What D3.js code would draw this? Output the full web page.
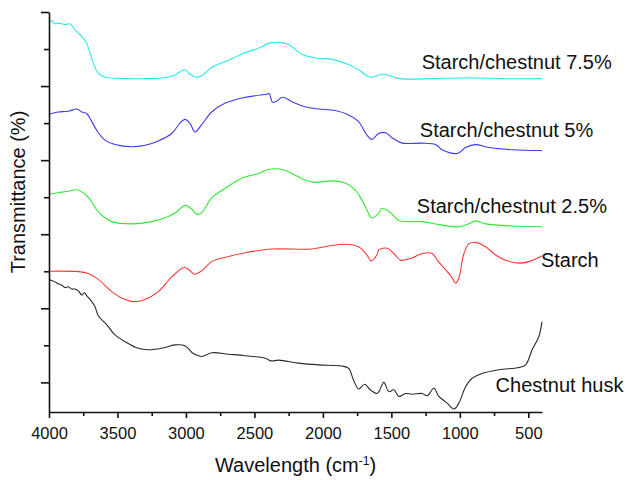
<!DOCTYPE html>
<html>
<head>
<meta charset="utf-8">
<script src="https://cdn.jsdelivr.net/npm/d3@7"></script>
<style>
  body { margin: 0; background: #fff; }
  svg text { font-family: "Liberation Sans", Arial, sans-serif; fill: #111; }
</style>
</head>
<body>
<div id="chart"></div>
<script>
// FTIR spectra, [wavenumber cm-1, transmittance (arbitrary offset units)]
const chestnut75 = [
  [4000, 48.7], [3980, 48.8], [3955, 48.4], [3932, 48.5], [3883, 48.3], [3847, 48.4],
  [3810, 47.6], [3761, 46.7], [3725, 45.8], [3700, 44.4], [3676, 43.1], [3640, 41.7],
  [3591, 41.2], [3542, 41.1], [3420, 41.0], [3299, 41.0], [3177, 41.1], [3092, 41.4],
  [3007, 42.2], [2971, 41.6], [2922, 41.2], [2885, 41.4], [2812, 42.5], [2688, 43.5],
  [2567, 44.5], [2445, 45.3], [2396, 45.8], [2323, 45.9], [2250, 45.6], [2153, 44.3],
  [2056, 43.8], [1934, 43.6], [1812, 42.9], [1739, 42.2], [1656, 41.2], [1618, 41.3],
  [1573, 41.6], [1511, 41.4], [1438, 41.0], [1197, 41.0], [1000, 41.1], [854, 41.1],
  [700, 41.0], [400, 41.0]
];

const chestnut5 = [
  [4000, 36.2], [3932, 36.5], [3859, 36.6], [3798, 36.9], [3761, 36.5], [3725, 36.3],
  [3688, 35.2], [3640, 33.7], [3591, 32.7], [3518, 32.1], [3396, 31.8], [3299, 32.0],
  [3202, 32.6], [3104, 33.6], [3044, 35.0], [3007, 35.5], [2971, 35.0], [2934, 33.8],
  [2885, 34.8], [2812, 36.5], [2713, 37.7], [2591, 38.4], [2494, 38.7], [2409, 38.9],
  [2392, 39.0], [2367, 37.8], [2336, 38.0], [2294, 38.5], [2226, 37.9], [2129, 37.2],
  [2031, 36.9], [1910, 36.7], [1812, 36.1], [1739, 35.2], [1679, 33.4], [1642, 32.8],
  [1593, 33.6], [1542, 33.7], [1494, 33.0], [1421, 32.3], [1275, 32.3], [1177, 32.1],
  [1129, 31.4], [1019, 30.9], [958, 31.7], [885, 32.1], [788, 31.7], [616, 31.4],
  [400, 31.3]
];

const chestnut25 = [
  [4000, 25.4], [3932, 25.6], [3859, 25.8], [3798, 26.0], [3737, 25.4], [3688, 24.4],
  [3652, 23.3], [3603, 22.4], [3542, 21.7], [3396, 21.4], [3250, 21.7], [3129, 22.4],
  [3068, 23.0], [3007, 23.9], [2958, 23.4], [2922, 22.7], [2885, 22.9], [2812, 24.9],
  [2713, 26.2], [2591, 27.6], [2469, 28.2], [2409, 28.7], [2312, 28.8], [2226, 28.2],
  [2129, 27.3], [2056, 27.0], [1934, 27.2], [1837, 26.9], [1764, 26.0], [1715, 24.6],
  [1679, 23.3], [1644, 22.2], [1593, 22.8], [1571, 23.5], [1511, 23.0], [1449, 21.9],
  [1365, 21.7], [1275, 21.7], [1153, 21.3], [1007, 21.0], [934, 21.4], [885, 21.8],
  [812, 21.4], [616, 21.1], [400, 21.0]
];

const starch = [
  [4000, 15.0], [3785, 14.95], [3713, 14.7], [3640, 13.9], [3542, 12.25], [3469, 11.4],
  [3384, 10.9], [3299, 11.2], [3202, 12.25], [3104, 14.25], [3012, 15.5], [2978, 15.2],
  [2939, 14.6], [2885, 15.05], [2812, 16.3], [2688, 17.0], [2567, 17.5], [2372, 18.0],
  [2080, 18.0], [1958, 18.4], [1837, 18.65], [1739, 18.3], [1679, 17.2], [1647, 16.4],
  [1606, 17.2], [1591, 17.9], [1530, 18.1], [1482, 17.4], [1433, 16.5], [1348, 16.8],
  [1275, 17.4], [1202, 17.4], [1165, 16.5], [1104, 15.2], [1056, 14.1], [1031, 13.4],
  [1007, 14.1], [970, 17.4], [934, 18.7], [885, 18.9], [812, 18.3], [739, 17.2],
  [666, 16.5], [569, 16.1], [496, 16.3], [400, 17.1]
];

const chestnutHusk = [
  [4000, 13.9], [3960, 13.6], [3932, 13.3], [3905, 13.1], [3883, 12.8], [3860, 12.9],
  [3834, 12.6], [3810, 12.6], [3785, 12.35], [3761, 11.8], [3740, 12.1], [3725, 11.7],
  [3700, 11.2], [3664, 10.2], [3640, 9.0], [3579, 7.8], [3518, 6.4], [3445, 5.5],
  [3348, 4.6], [3275, 4.4], [3177, 4.6], [3080, 5.06], [3007, 4.96], [2946, 3.9],
  [2885, 3.5], [2812, 4.0], [2688, 3.8], [2567, 3.6], [2421, 3.26], [2377, 2.9],
  [2323, 3.0], [2177, 2.6], [2031, 2.36], [1861, 2.2], [1812, 1.9], [1776, 0.3],
  [1739, -0.9], [1695, -0.25], [1654, -1.0], [1606, -1.5], [1591, -1.25], [1555, 0.0],
  [1518, -1.25], [1482, -1.0], [1445, -1.9], [1396, -1.5], [1348, -1.6], [1275, -1.5],
  [1238, -1.8], [1190, -0.8], [1153, -1.9], [1092, -2.8], [1043, -3.6], [1007, -2.8],
  [958, -0.6], [910, 0.56], [837, 1.2], [715, 1.7], [569, 2.0], [520, 2.36],
  [472, 4.4], [423, 6.2], [400, 8.2]
];

const seriesNames = ["Starch/chestnut 7.5%", "Starch/chestnut 5%", "Starch/chestnut 2.5%", "Starch", "Chestnut husk"];
const seriesData = [chestnut75, chestnut5, chestnut25, starch, chestnutHusk];
const seriesColors = ["#2ae8ea", "#3c3ce8", "#33e633", "#ff3535", "#2a2a2a"];
// label anchors, in data units [wavenumber, transmittance]
const labelAnchors = [[1279, 42.3], [1292, 33.1], [1314, 22.8], [408, 15.6], [739, -1.25]];

const xMajorTicks = [4000, 3500, 3000, 2500, 2000, 1500, 1000, 500];
const xMinorTicks = [3750, 3250, 2750, 2250, 1750, 1250, 750];
const yTicks = [0, 5, 10, 15, 20, 25, 30, 35, 40, 45, 50];

const width = 627;
const height = 480;
const margin = { top: 12, right: 85, bottom: 68, left: 49 };

const svg = d3.select("#chart")
  .append("svg")
  .attr("width", width)
  .attr("height", height);

const xScale = d3.scaleLinear()
  .domain([4000, 400])
  .range([margin.left, width - margin.right]);

const yScale = d3.scaleLinear()
  .domain([-4, 50])
  .range([height - margin.bottom, margin.top]);

// curves
const line = d3.line()
  .x((d) => xScale(d[0]))
  .y((d) => yScale(d[1]))
  .curve(d3.curveCatmullRom.alpha(0.5));

svg.append("g")
  .selectAll("path")
  .data(seriesData)
  .join("path")
  .attr("d", line)
  .attr("fill", "none")
  .attr("stroke", (d, i) => seriesColors[i])
  .attr("stroke-width", 1.1);

// axes
const xAxisMinor = d3.axisBottom(xScale)
  .tickValues(xMinorTicks)
  .tickSize(4)
  .tickFormat("");

const xAxis = d3.axisBottom(xScale)
  .tickValues(xMajorTicks)
  .tickSize(6)
  .tickPadding(9)
  .tickSizeOuter(0)
  .tickFormat(d3.format("d"));

svg.append("g")
  .attr("transform", `translate(0, ${height - margin.bottom})`)
  .call(xAxisMinor)
  .call((g) => g.select(".domain").remove());

const xg = svg.append("g")
  .attr("transform", `translate(0, ${height - margin.bottom})`)
  .call(xAxis);

xg.selectAll("text")
  .style("font-size", "16.5px")
  .attr("fill", "#111");

const yAxis = d3.axisLeft(yScale)
  .tickValues(yTicks)
  .tickSize(8)
  .tickSizeOuter(0)
  .tickFormat("");

const yg = svg.append("g")
  .attr("transform", `translate(${margin.left}, 0)`)
  .call(yAxis);

yg.selectAll(".tick line")
  .attr("x2", (d) => (d % 10 === 0 ? -8 : -5));

svg.selectAll(".domain, .tick line")
  .attr("stroke", "#111")
  .attr("stroke-width", 1.6);

// axis titles
const xTitle = svg.append("text")
  .attr("x", (margin.left + width - margin.right) / 2)
  .attr("y", 472)
  .attr("text-anchor", "middle")
  .style("font-size", "20px");

xTitle.append("tspan").text("Wavelength (cm");
xTitle.append("tspan").text("-1").attr("dy", -7).style("font-size", "12px");
xTitle.append("tspan").text(")").attr("dy", 7);

svg.append("text")
  .attr("transform", `translate(25, 192) rotate(-90)`)
  .attr("text-anchor", "middle")
  .style("font-size", "20px")
  .text("Transmittance (%)");

// series labels
svg.append("g")
  .selectAll("text")
  .data(seriesNames)
  .join("text")
  .attr("x", (d, i) => xScale(labelAnchors[i][0]))
  .attr("y", (d, i) => yScale(labelAnchors[i][1]))
  .style("font-size", "20px")
  .text((d) => d);
</script>
</body>
</html>
